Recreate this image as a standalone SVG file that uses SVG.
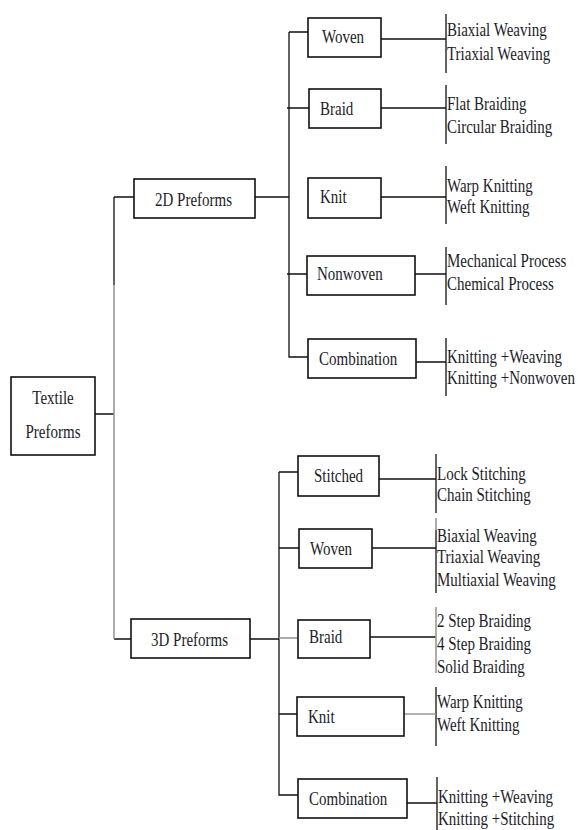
<svg xmlns="http://www.w3.org/2000/svg" width="578" height="830" viewBox="0 0 578 830">
<style>
.box{fill:#fff;stroke:#111;stroke-width:1.6}
.ln{stroke:#111;stroke-width:1.3;fill:none}
.gr{stroke:#999;stroke-width:1.6;fill:none}
text{font-family:"Liberation Serif","Times New Roman",serif;font-size:15px;fill:#1c1c2a}
.c{text-anchor:middle}
</style>
<rect width="578" height="830" fill="#fff"/>
<g id="connectors">
<path class="ln" d="M95,414 H114 M114,197 V285 M114,197 H134 M114,639 H131"/>
<path class="gr" d="M114,285 V639"/>
<path class="ln" d="M255,197 H289 M289,32 V357 H308 M289,32 H308 M287,108 H309 M287,274 H307"/>
<path class="ln" d="M379,39 H446 M446,14 V73 M381,108 H446 M446,85 V144 M381,197 H446 M446,166 V224 M415,274 H446 M446,247 V305 M416,362 H446 M446,338 V396"/>
<path class="ln" d="M250,639 H279 M279,472 V795 H298 M279,472 H298 M279,548 H299 M279,714 H297"/>
<path class="gr" d="M279,638 H298"/>
<path class="ln" d="M379,479 H436 M436,454 V513 M372,548 H436 M436,530 V593 M370,637 H436 M436,687 V746 M407,803 H437 M437,777 V830"/>
<path class="gr" d="M436,518 V530 M436,607 V673 M404,714 H436"/>
</g>
<g id="textile"><rect class="box" x="11" y="377" width="84" height="78"/>
<text class="c" transform="translate(53 404) scale(1 1.3)">Textile</text>
<text class="c" transform="translate(53 438) scale(1 1.3)">Preforms</text></g>
<g id="p2d"><rect class="box" x="134" y="179" width="121" height="39"/>
<text transform="translate(155 206) scale(1 1.3)">2D Preforms</text></g>
<g id="p3d"><rect class="box" x="131" y="619" width="119" height="39"/>
<text transform="translate(151 646) scale(1 1.3)">3D Preforms</text></g>
<g id="woven2d"><rect class="box" x="308" y="18" width="73" height="39"/>
<text transform="translate(322 43) scale(1 1.3)">Woven</text></g>
<g id="braid2d"><rect class="box" x="309" y="89" width="72" height="39"/>
<text transform="translate(320 115) scale(1 1.3)">Braid</text></g>
<g id="knit2d"><rect class="box" x="308" y="178" width="73" height="40"/>
<text transform="translate(320 203) scale(1 1.3)">Knit</text></g>
<g id="nonwoven2d"><rect class="box" x="307" y="256" width="108" height="39"/>
<text transform="translate(317 280) scale(1 1.3)">Nonwoven</text></g>
<g id="comb2d"><rect class="box" x="308" y="339" width="108" height="39"/>
<text transform="translate(319 365) scale(1 1.3)">Combination</text></g>
<g id="stitched3d"><rect class="box" x="298" y="456" width="81" height="40"/>
<text transform="translate(314 482) scale(1 1.3)">Stitched</text></g>
<g id="woven3d"><rect class="box" x="299" y="529" width="73" height="39"/>
<text transform="translate(310 555) scale(1 1.3)">Woven</text></g>
<g id="braid3d"><rect class="box" x="298" y="620" width="72" height="38"/>
<text transform="translate(309 643) scale(1 1.3)">Braid</text></g>
<g id="knit3d"><rect class="box" x="297" y="697" width="107" height="39"/>
<text transform="translate(308 723) scale(1 1.3)">Knit</text></g>
<g id="comb3d"><rect class="box" x="298" y="779" width="109" height="39"/>
<text transform="translate(309 805) scale(1 1.3)">Combination</text></g>
<g id="labels2d">
<text transform="translate(447 36) scale(1 1.3)">Biaxial Weaving</text>
<text transform="translate(447 60) scale(1 1.3)">Triaxial Weaving</text>
<text transform="translate(447 110) scale(1 1.3)">Flat Braiding</text>
<text transform="translate(447 133) scale(1 1.3)">Circular Braiding</text>
<text transform="translate(447 192) scale(1 1.3)">Warp Knitting</text>
<text transform="translate(447 213) scale(1 1.3)">Weft Knitting</text>
<text transform="translate(447 267) scale(1 1.3)">Mechanical Process</text>
<text transform="translate(447 290) scale(1 1.3)">Chemical Process</text>
<text transform="translate(447 363) scale(1 1.3)">Knitting +Weaving</text>
<text transform="translate(447 384) scale(1 1.3)">Knitting +Nonwoven</text>
</g>
<g id="labels3d">
<text transform="translate(437 480) scale(1 1.3)">Lock Stitching</text>
<text transform="translate(437 501) scale(1 1.3)">Chain Stitching</text>
<text transform="translate(437 542) scale(1 1.3)">Biaxial Weaving</text>
<text transform="translate(437 563) scale(1 1.3)">Triaxial Weaving</text>
<text transform="translate(437 586) scale(1 1.3)">Multiaxial Weaving</text>
<text transform="translate(437 627) scale(1 1.3)">2 Step Braiding</text>
<text transform="translate(437 650) scale(1 1.3)">4 Step Braiding</text>
<text transform="translate(437 673) scale(1 1.3)">Solid Braiding</text>
<text transform="translate(437 708) scale(1 1.3)">Warp Knitting</text>
<text transform="translate(437 731) scale(1 1.3)">Weft Knitting</text>
<text transform="translate(438 803) scale(1 1.3)">Knitting +Weaving</text>
<text transform="translate(438 825) scale(1 1.3)">Knitting +Stitching</text>
</g>
</svg>
